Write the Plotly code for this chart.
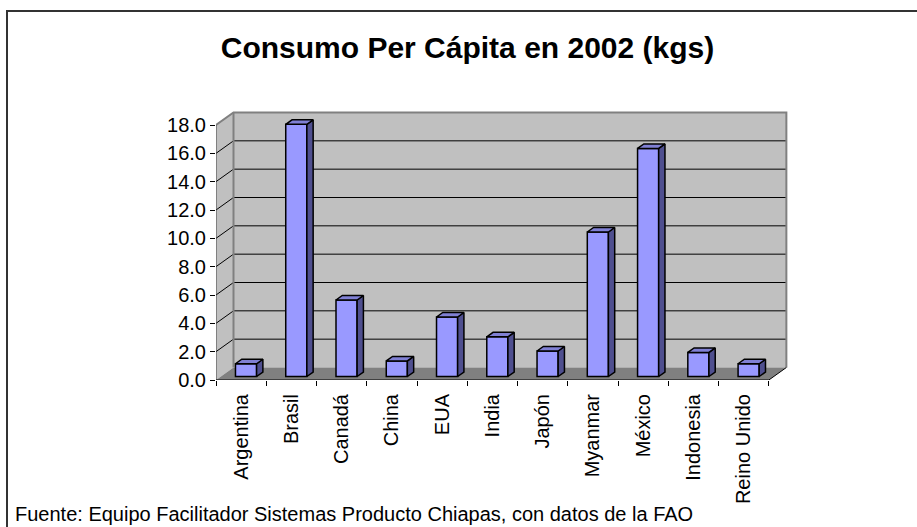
import plotly.graph_objects as go

# ---- data ----
categories = ["Argentina", "Brasil", "Canadá", "China", "EUA", "India", "Japón",
              "Myanmar", "México", "Indonesia", "Reino Unido"]
values = [0.9, 17.8, 5.4, 1.1, 4.2, 2.8, 1.8, 10.2, 16.1, 1.7, 0.9]
y_ticks = [0, 2, 4, 6, 8, 10, 12, 14, 16, 18]
y_max = 18
title_text = "Consumo Per Cápita en 2002 (kgs)"
source_text = "Fuente: Equipo Facilitador Sistemas Producto Chiapas, con datos de la FAO"

# ---- 3D projection parameters (in axis units) ----
W, H = 917, 527
ML, MR, MT, MB = 216, 123, 108, 147
x_range = [-0.5, 11.0]
y_range = [0, 19.2]
px_x = (W - ML - MR) / (x_range[1] - x_range[0])
px_y = (H - MT - MB) / (y_range[1] - y_range[0])
DX = 17.5 / px_x          # wall depth, x
DY = 12.5 / px_y          # wall depth, y
n = len(categories)
xl, xr = -0.5, n - 0.5
f = 0.28                  # bar front position in depth
d = 0.36                  # bar depth fraction
bw = 0.42                 # bar width

fig = go.Figure()

# front faces
fig.add_trace(go.Bar(
    x=[i + f * DX for i in range(n)], y=values, base=[f * DY] * n, width=bw,
    marker=dict(color="#9999FF", line=dict(color="black", width=1.5)),
    hoverinfo="skip", showlegend=False))

# side and top faces
sx, sy, tx, ty = [], [], [], []
ddx, ddy = d * DX, d * DY
for i, v in enumerate(values):
    x0 = i - bw / 2 + f * DX
    x1 = i + bw / 2 + f * DX
    y0 = f * DY
    y1 = y0 + v
    sx += [x1, x1 + ddx, x1 + ddx, x1, x1, None]
    sy += [y0, y0 + ddy, y1 + ddy, y1, y0, None]
    tx += [x0, x1, x1 + ddx, x0 + ddx, x0, None]
    ty += [y1, y1, y1 + ddy, y1 + ddy, y1, None]
fig.add_trace(go.Scatter(x=sx, y=sy, mode="lines", fill="toself",
                         fillcolor="#4F4F8F", line=dict(color="black", width=1.5),
                         hoverinfo="skip", showlegend=False))
fig.add_trace(go.Scatter(x=tx, y=ty, mode="lines", fill="toself",
                         fillcolor="#8080D4", line=dict(color="black", width=1.5),
                         hoverinfo="skip", showlegend=False))

shapes = []
def poly(pts, fill, line_color=None, lw=0):
    path = "M " + " L ".join(f"{x},{y}" for x, y in pts) + " Z"
    shapes.append(dict(type="path", path=path, xref="x", yref="y", layer="below",
                       fillcolor=fill, line=dict(color=line_color or fill, width=lw)))

def seg(pts, color, lw):
    path = "M " + " L ".join(f"{x},{y}" for x, y in pts)
    shapes.append(dict(type="path", path=path, xref="x", yref="y", layer="below",
                       line=dict(color=color, width=lw)))

# back wall, side wall, floor
poly([(xl + DX, DY), (xr + DX, DY), (xr + DX, y_max + DY), (xl + DX, y_max + DY)], "#C0C0C0")
poly([(xl, 0), (xl + DX, DY), (xl + DX, y_max + DY), (xl, y_max)], "#C0C0C0")
poly([(xl, 0), (xr, 0), (xr + DX, DY), (xl + DX, DY)], "#808080")

# gridlines
for t in y_ticks[1:-1]:
    seg([(xl, t), (xl + DX, t + DY), (xr + DX, t + DY)], "black", 1)

# wall borders
seg([(xl, y_max), (xl + DX, y_max + DY), (xr + DX, y_max + DY), (xr + DX, DY)], "#808080", 2)
seg([(xl + DX, DY), (xl + DX, y_max + DY)], "#808080", 2)
seg([(xr, 0), (xr + DX, DY)], "black", 1)
# axis lines
seg([(xl, 0), (xl, y_max)], "#404040", 1)
seg([(xl, 0), (xr, 0)], "black", 1)

# chart border
shapes.append(dict(type="rect", xref="paper", yref="paper",
                   x0=(7 - ML) / (W - ML - MR), x1=1.5,
                   y0=-1, y1=(H - 11 - MB) / (H - MT - MB),
                   line=dict(color="#333333", width=2), layer="below"))

fig.update_layout(
    width=W, height=H,
    margin=dict(l=ML, r=MR, t=MT, b=MB, autoexpand=False),
    paper_bgcolor="white", plot_bgcolor="white",
    font=dict(family="Liberation Sans, Arial, sans-serif", color="black"),
    shapes=shapes,
    title=dict(text=f"<b>{title_text}</b>", x=467.5 / W, xanchor="center",
               y=1 - 47 / H, yanchor="middle",
               font=dict(size=30, family="Liberation Sans, Arial, sans-serif", color="black")),
    xaxis=dict(range=x_range, showgrid=False, zeroline=False, showline=False,
               tickvals=list(range(n)), ticktext=categories, tickangle=-90,
               ticks="outside", ticklen=5, tickcolor="rgba(0,0,0,0)",
               tickfont=dict(size=20), automargin=False,
               minor=dict(tickvals=[k - 0.5 for k in range(n + 1)], ticks="outside",
                          ticklen=5, tickcolor="black", showgrid=False)),
    yaxis=dict(range=y_range, showgrid=False, zeroline=False, showline=False,
               tickvals=y_ticks, tickformat=".1f", ticks="outside", ticklen=5,
               tickcolor="black", tickfont=dict(size=20), automargin=False),
    annotations=[dict(text=source_text, xref="paper", yref="paper",
                      x=(13 - ML) / (W - ML - MR), xanchor="left",
                      y=(H - 514 - MB) / (H - MT - MB), yanchor="middle",
                      showarrow=False, font=dict(size=20))],
    showlegend=False,
)

fig.write_html("out.html", config={"displayModeBar": False},
               post_script="document.body.style.margin='0';document.body.style.overflow='hidden';")
